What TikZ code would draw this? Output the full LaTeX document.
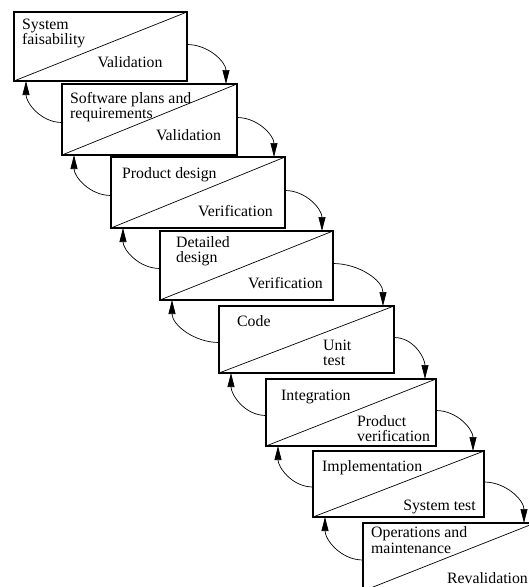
\documentclass[tikz,border=0pt]{standalone}
\usepackage{fontspec}
\setmainfont{Liberation Serif}
\usetikzlibrary{arrows.meta}
\begin{document}
\begin{tikzpicture}[x=1pt,y=-1pt,
  phase/.style={draw,line width=1.2pt,inner sep=0pt,outer sep=0pt},
  diag/.style={line width=0.7pt},
  lbl/.style={inner sep=0pt,font=\fontsize{15.8}{15}\selectfont},
  fwd/.style={line width=0.7pt,-{Triangle[length=14pt,width=7pt]},out=0,in=90},
  back/.style={line width=0.7pt,-{Triangle[length=14pt,width=7pt]},out=180,in=-90}]
\useasboundingbox (0,0) rectangle (529,587);
\clip (0,0) rectangle (529,587);
% boxes: left,top,right,bottom
\node[phase,minimum width=173pt,minimum height=69pt] (b1) at (100.5,46.5) {};
\node[phase,minimum width=175pt,minimum height=71pt] (b2) at (149.5,119.5) {};
\node[phase,minimum width=174pt,minimum height=71pt] (b3) at (198,192.5) {};
\node[phase,minimum width=173pt,minimum height=69pt] (b4) at (246.5,265.5) {};
\node[phase,minimum width=175pt,minimum height=67pt] (b5) at (306.5,339.5) {};
\node[phase,minimum width=170pt,minimum height=67pt] (b6) at (351,412.5) {};
\node[phase,minimum width=171pt,minimum height=66pt] (b7) at (398.5,484) {};
\node[phase,minimum width=172pt,minimum height=68pt] (b8) at (449,557) {};
\foreach \b in {b1,b2,b3,b4,b5,b6,b7,b8}
  \draw[diag] (\b.south west) -- (\b.north east);
% texts
\node[lbl,anchor=base west] (t1a) at (22,29) {System};
\node[lbl,anchor=base west] (t1b) at (22,44) {faisability};
\node[lbl,anchor=base] (t1c) at (130,67) {Validation};
\node[lbl,anchor=base west] (t2a) at (70,103) {Software plans and};
\node[lbl,anchor=base west] (t2b) at (70,118) {requirements};
\node[lbl,anchor=base] (t2c) at (188.5,140) {Validation};
\node[lbl,anchor=base west] (t3a) at (122,178) {Product design};
\node[lbl,anchor=base] (t3c) at (235.5,216) {Verification};
\node[lbl,anchor=base west] (t4a) at (176,247) {Detailed};
\node[lbl,anchor=base west] (t4b) at (176,262) {design};
\node[lbl,anchor=base] (t4c) at (285.5,288) {Verification};
\node[lbl,anchor=base west] (t5a) at (237,326) {Code};
\node[lbl,anchor=base west] (t5b) at (323,350) {Unit};
\node[lbl,anchor=base west] (t5c) at (323,365) {test};
\node[lbl,anchor=base west] (t6a) at (281,400) {Integration};
\node[lbl,anchor=base west] (t6b) at (357,426) {Product};
\node[lbl,anchor=base west] (t6c) at (357,441.5) {verification};
\node[lbl,anchor=base west] (t7a) at (322,471) {Implementation};
\node[lbl,anchor=base] (t7c) at (439.5,510) {System test};
\node[lbl,anchor=base west] (t8a) at (371,537) {Operations and};
\node[lbl,anchor=base west] (t8b) at (371,553) {maintenance};
\node[lbl,anchor=base] (t8c) at (487.5,583) {Revalidation};
% forward arrows
\foreach \a/\b in {b1/b2,b2/b3,b3/b4,b4/b5,b5/b6,b6/b7,b7/b8}
  \draw[fwd] ([yshift=2pt]\a.east) to ([xshift=-11pt]\b.north east);
% back arrows
\foreach \a/\b in {b2/b1,b3/b2,b4/b3,b5/b4,b6/b5,b7/b6,b8/b7}
  \draw[back] ([yshift=-3pt]\a.west) to ([xshift=12pt]\b.south west);
\end{tikzpicture}
\end{document}
